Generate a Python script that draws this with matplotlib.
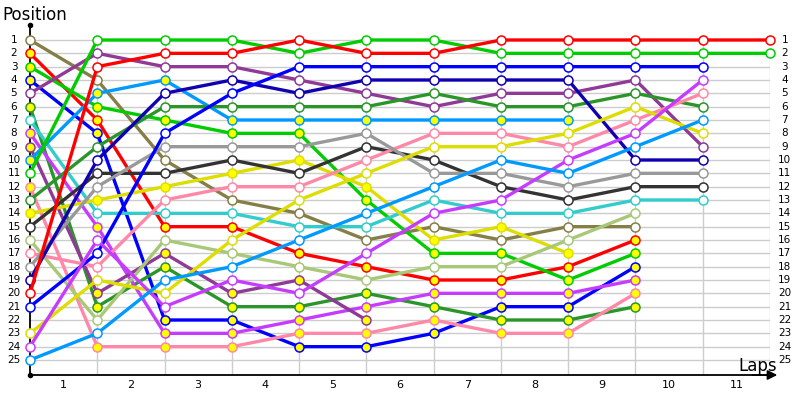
import matplotlib
matplotlib.use("Agg")
import matplotlib.pyplot as plt

# ---- data ----
positions_axis = list(range(1, 26))
lap_labels = [str(i) for i in range(1, 12)]

olive_open = [1, 4, 10, 13, 14, 16, 15, 16, 15, 15]
red_yellow = [2, 7, 15, 15, 17, 18, 19, 19, 18, 16]
green_yellow = [3, 6, 7, 8, 8, 13, 17, 17, 19, 17]
blue_yellow = [4, 8, 22, 22, 24, 24, 23, 21, 21, 18]
purple_open = [5, 2, 3, 3, 4, 5, 6, 5, 5, 4, 9]
dkgreen_yellow = [6, 21, 18, 21, 21, 20, 21, 22, 22, 21]
cyan_open = [7, 14, 14, 14, 15, 15, 13, 14, 14, 13, 13]
violet_yellow = [8, 15, 23, 23, 22, 21, 20, 20, 20, 19]
purple_yellow = [9, 20, 17, 20, 19, 22]
ltblue_yellow = [10, 5, 4, 7, 7, 7, 7, 7, 7]
green_open = [11, 1, 1, 1, 2, 1, 1, 2, 2, 2, 2, 2]
pink_yellow = [12, 24, 24, 24, 23, 23, 22, 23, 23, 20]
dkgreen_open = [13, 9, 6, 6, 6, 6, 5, 6, 6, 5, 6]
yellow_yellow = [14, 13, 12, 11, 10, 12, 16, 15, 17]
dkgray_open = [15, 11, 11, 10, 11, 9, 10, 12, 13, 12, 12]
ltolive_open = [16, 22, 16, 17, 18, 19, 18, 18, 16, 14]
pink_open = [17, 18, 13, 12, 12, 10, 8, 8, 9, 7, 5]
gray_open = [18, 12, 9, 9, 9, 8, 11, 11, 12, 11, 11]
navy_open = [19, 10, 5, 4, 5, 4, 4, 4, 4, 10, 10]
red_open = [20, 3, 2, 2, 1, 2, 2, 1, 1, 1, 1, 1]
blue_open = [21, 17, 8, 5, 3, 3, 3, 3, 3, 3, 3]
yellow_open = [23, 19, 20, 16, 13, 11, 9, 9, 8, 6, 8]
violet_open = [24, 16, 21, 19, 20, 17, 14, 13, 10, 8, 4]
ltblue_open = [25, 23, 19, 18, 16, 14, 12, 10, 11, 9, 7]

C_OLIVE = "#857f47"; C_RED = "#ff0000"; C_GREEN = "#00cc00"; C_BLUE = "#0000ff"
C_PURPLE = "#8e3a96"; C_DKGREEN = "#2a962a"; C_CYAN = "#33cccc"; C_VIOLET = "#c63cff"
C_LTBLUE = "#0099ff"; C_PINK = "#ff88a8"; C_YELLOW = "#dddd00"; C_DKGRAY = "#333333"
C_LTOLIVE = "#a8c878"; C_GRAY = "#999999"; C_NAVY = "#1100b0"
YF = "#ffff00"; WF = "#ffffff"

series = [
    (olive_open, C_OLIVE, WF), (red_yellow, C_RED, YF), (green_yellow, C_GREEN, YF),
    (blue_yellow, C_BLUE, YF), (purple_open, C_PURPLE, WF), (dkgreen_yellow, C_DKGREEN, YF),
    (cyan_open, C_CYAN, WF), (violet_yellow, C_VIOLET, YF), (purple_yellow, C_PURPLE, YF),
    (ltblue_yellow, C_LTBLUE, YF), (green_open, C_GREEN, WF), (pink_yellow, C_PINK, YF),
    (dkgreen_open, C_DKGREEN, WF), (yellow_yellow, C_YELLOW, YF), (dkgray_open, C_DKGRAY, WF),
    (ltolive_open, C_LTOLIVE, WF), (pink_open, C_PINK, WF), (gray_open, C_GRAY, WF),
    (navy_open, C_NAVY, WF), (red_open, C_RED, WF), (blue_open, C_BLUE, WF),
    (yellow_open, C_YELLOW, WF), (violet_open, C_VIOLET, WF), (ltblue_open, C_LTBLUE, WF),
]

fig = plt.figure(figsize=(8, 4), dpi=100)
ax = fig.add_axes([30/800, 25/400, 740/800, 350/400])
ax.set_xlim(0, 11)
ax.set_ylim(26.125, -0.125)
ax.axis("off")

nlaps = len(lap_labels)
# grid
for p in positions_axis:
    ax.plot([0, nlaps], [p, p], color="#cccccc", lw=1, zorder=1, solid_capstyle="butt")
for x in range(1, nlaps + 1):
    ax.plot([x, x], [1, 26.125], color="#cccccc", lw=1, zorder=1, solid_capstyle="butt")

# axes lines
ax.plot([0, 0], [-0.125, 26.125], color="black", lw=1.3, zorder=5, clip_on=False)
ax.plot([0, 11.05], [26.125, 26.125], color="black", lw=1.3, zorder=5, clip_on=False)
ax.annotate("", xy=(11.15, 26.125), xytext=(10.7, 26.125),
            arrowprops=dict(arrowstyle="-|>", color="black", lw=1.3, mutation_scale=14),
            annotation_clip=False, zorder=5)
ax.plot([0], [-0.125], marker="o", color="black", ms=3, zorder=6, clip_on=False)
ax.plot([0], [26.125], marker="o", color="black", ms=3, zorder=6, clip_on=False)

# series
for i, (vals, col, face) in enumerate(series):
    xs = list(range(len(vals)))
    ax.plot(xs, vals, color=col, lw=2.4, zorder=10 + i, solid_joinstyle="round",
            marker="o", ms=6.5, mfc=face, mec=col, mew=1.1, clip_on=False)

# labels
for p in positions_axis:
    ax.text(-0.238, p, str(p), ha="center", va="center", fontsize=7.5, clip_on=False)
    ax.text(11.22, p, str(p), ha="center", va="center", fontsize=7.5, clip_on=False)
for i, lab in enumerate(lap_labels):
    ax.text(i + 0.5, 26.9, lab, ha="center", va="center", fontsize=8, clip_on=False)

fig.text(2/800, 1 - 15/400, "Position", ha="left", va="center", fontsize=12)
fig.text(758/800, 1 - 366/400, "Laps", ha="center", va="center", fontsize=12)

fig.savefig("out.png", dpi=100)
